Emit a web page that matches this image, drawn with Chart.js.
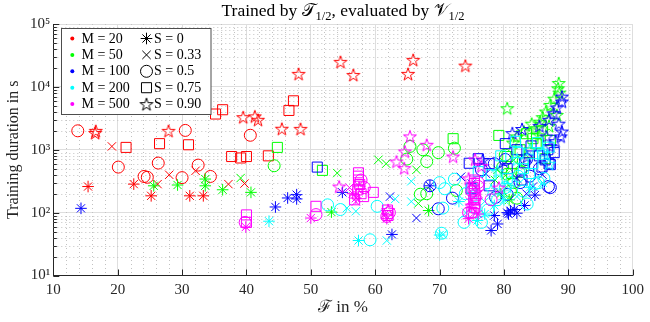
<!DOCTYPE html>
<html>
<head>
<meta charset="utf-8">
<script src="https://cdn.jsdelivr.net/npm/chart.js@4"></script>
<style>
  html, body { margin: 0; padding: 0; background: #fff; }
  #wrap { width: 650px; height: 322px; }
</style>
</head>
<body>
<div id="wrap"><canvas id="c" width="650" height="322"></canvas></div>
<script>
// ---- axis ticks and legend entries ----
const xTickValues = [10, 20, 30, 40, 50, 60, 70, 80, 90, 100];
const yTickValues = [10, 100, 1000, 10000, 100000];
const mLabels = ['M = 20', 'M = 50', 'M = 100', 'M = 200', 'M = 500'];
const sLabels = ['S = 0', 'S = 0.33', 'S = 0.5', 'S = 0.75', 'S = 0.90'];
const mColors = ['#ff0000', '#00ff00', '#0000ff', '#00ffff', '#ff00ff'];

// ---- measurements: [F in %, training duration in s] ----
// M = 20
const m20s0  = [[15.4,260],[22.5,284],[25.2,185],[31.2,185],[33.3,185]];
const m20s33 = [[19.1,1130],[28,400],[32.1,463],[26.2,284],[37.2,284],[39.7,290]];
const m20s50 = [[13.8,2000],[30.5,2030],[40.6,1700],[20.1,530],[26.3,614],[24.1,376],[24.6,365],[30,360],[32.5,570],[34.4,376]];
const m20s75 = [[21.3,1090],[26.5,1250],[31,1200],[35.2,3700],[36.3,4330],[37.7,780],[39.1,740],[40,780],[43.4,800],[46.6,4220],[47.3,6000]];
const m20s90 = [[16.6,2000],[16.5,1850],[27.9,2000],[39.5,3300],[41.3,3400],[41.8,3000],[45.5,2160],[48.4,2150],[48.1,16100],[54.6,25000],[56.6,15500],[65.9,26900],[65.1,16100],[74,21800]];
// M = 50
const m50s0  = [[25.6,267],[29.3,275],[33.6,342],[33.6,267],[36.3,231],[40.7,210],[53.2,102],[68.3,108],[79.5,200],[80.8,160]];
const m50s33 = [[39.1,355],[54.1,426],[60.5,693],[61.7,600],[66.4,480],[66.7,140],[79,480],[80.2,390],[81.5,680],[78.6,330],[82.5,560]];
const m50s50 = [[44.3,557],[65.4,1130],[67.4,1000],[69.8,900],[64.9,710],[68,650],[67,196],[68,200],[72.3,1060],[72.6,225],[79.8,530],[80.5,410],[81.5,300],[82.6,450],[80.2,820],[83,680],[81,220],[82,170]];
const m50s75 = [[44.8,1090],[51.8,470],[72.1,1500],[79.2,1690],[83.9,890],[82.5,1000],[85,1250],[80.5,780],[86,2000],[84.5,1500],[81.2,420],[86.4,720],[83.5,1800],[87.2,1400]];
const m50s90 = [[80.5,4580],[88.5,11500],[88.4,9500],[88.6,8100],[87.2,5170],[86.5,4050],[85.6,2800],[84.9,2200],[83.1,1950],[82,1630],[88.2,3580],[86,3300],[87.8,6500],[84.3,2600],[85.5,1700],[81.4,1300],[87,2400]];
// M = 100
const m100s0  = [[14.3,117],[44.5,123],[46.4,171],[47.8,193],[47.8,165],[54.9,210],[62.6,45],[68.5,267],[81,107],[80.5,100],[81.6,112],[82,98],[80.7,95],[78,52],[79,66],[83.2,130],[84.8,190],[78.5,90]];
const m100s33 = [[62.3,180],[66.4,82],[73.3,370],[77.2,415],[80,600],[82,350],[84.5,260],[86,400],[75,290],[83.5,200]];
const m100s50 = [[68.5,267],[69.8,115],[72,170],[87.2,250],[86.9,260],[80.2,700],[78.7,175],[80.5,195],[82.5,300],[84,380],[76.5,480],[78.5,600],[83.5,700],[85.5,500]];
const m100s75 = [[51,530],[74.6,610],[77.7,600],[80.2,1250],[86.4,690],[87.2,580],[82.8,330],[77.7,267],[74.9,240],[85.9,530],[87,600],[82,1000],[85.5,800],[87.8,900],[80.5,500],[76,720],[84.2,1150],[86.8,1000],[83.2,620]];
const m100s90 = [[89,5850],[89,7000],[87.7,3800],[89,1950],[88.8,1630],[87.2,1130],[82.8,2140],[81.3,1840],[83.6,780],[76.7,690],[88,1370],[86.6,1630],[88.2,4700],[87,3000],[85.5,2400],[88.5,2600]];
// M = 200
const m200s0  = [[43.5,73],[57.4,36],[70,44],[75.9,75],[78.5,130],[80,160],[84,250],[73,150],[77,95]];
const m200s33 = [[65.6,315],[65.6,150],[63.1,165],[61.8,36],[55.6,118],[57,105],[70.5,45],[74.1,100],[77,150],[79.5,210],[82,180],[86,300]];
const m200s50 = [[52.6,133],[54.6,112],[60.3,126],[59.2,37],[70,300],[70.8,240],[72.3,340],[73.8,70],[70.5,118],[70.3,47],[74,200],[75.5,120],[77.5,110],[79,160],[83.6,137],[85.4,300],[84.9,290],[81,300],[76.5,70],[83,220],[80.2,250],[82.2,380],[86.2,350]];
const m200s75 = [[81.8,1360],[80.5,350],[78,400],[76,450],[79.5,800],[83,500],[84.5,600],[86,850],[75,250],[87,1100],[85.2,1300],[82.2,900],[84,420]];
const m200s90 = [[84,1000],[82,700],[86,900],[79,450],[78,230],[75.2,200],[80.5,260],[87,600]];
// M = 500
const m500s0  = [[39.9,59],[50,82],[57,170],[56.5,200],[61.8,80],[75,120],[74.5,80],[76,95]];
const m500s33 = [[57,150],[61.5,95],[74.7,150],[76,200],[56,250]];
const m500s50 = [[39.8,70],[50.8,93],[57.8,330],[58.3,250],[61.8,87],[62.2,100],[75,220],[76,300],[74.5,100],[78,160],[76,260]];
const m500s75 = [[40,92],[40,70],[50.8,126],[57.4,430],[57.4,380],[57.4,330],[57.6,280],[57.3,230],[57.8,200],[58.2,180],[56.8,160],[59.7,210],[75.4,330],[75.4,290],[75.2,250],[75.4,220],[75.6,190],[75.3,160],[75.5,140],[75.4,120],[75,100],[61.9,110],[62,90]];
const m500s90 = [[65.4,1630],[68,1200],[64.6,940],[63.3,650],[64.5,510],[54.4,260],[57.5,250],[62,110],[72.1,780],[75.5,700],[76.5,550],[79.2,250],[74.5,350],[75.6,160],[75,130]];

const series = [
  [m20s0, m20s33, m20s50, m20s75, m20s90],
  [m50s0, m50s33, m50s50, m50s75, m50s90],
  [m100s0, m100s33, m100s50, m100s75, m100s90],
  [m200s0, m200s33, m200s50, m200s75, m200s90],
  [m500s0, m500s33, m500s50, m500s75, m500s90]
];

const SERIF = '"Liberation Serif", "DejaVu Serif", serif';
const INK = '#262626';

// five-pointed star marker as an image point style
function pentagram(color, R) {
  const s = Math.ceil(R * 2 + 4);
  const c = document.createElement('canvas');
  c.width = s; c.height = s;
  const g = c.getContext('2d');
  g.strokeStyle = color; g.lineWidth = 1;
  g.beginPath();
  const cx = s / 2, cy = s / 2 + R * 0.1, r = R * 0.382;
  for (let k = 0; k < 10; k++) {
    const a = -Math.PI / 2 + k * Math.PI / 5;
    const rad = k % 2 ? r : R;
    g.lineTo(cx + rad * Math.cos(a), cy + rad * Math.sin(a));
  }
  g.closePath(); g.stroke();
  return c;
}

const markerRadius = [5.8, 5.9, 6, 7.1, 6.8];
function markerStyle(j, color) {
  return ['star', 'crossRot', 'circle', 'rect', pentagram(color, markerRadius[4])][j];
}

const datasets = [];
series.forEach((row, i) => {
  row.forEach((pts, j) => {
    datasets.push({
      label: mLabels[i] + ', ' + sLabels[j],
      data: pts.map(([x, y]) => ({ x, y })),
      pointStyle: markerStyle(j, mColors[i]),
      pointRadius: markerRadius[j],
      pointHoverRadius: markerRadius[j],
      borderColor: mColors[i],
      backgroundColor: 'rgba(0,0,0,0)',
      pointBorderWidth: 1,
      borderWidth: 1,
      showLine: false
    });
  });
});
// later series sit on top
datasets.reverse();

const SUP = { '1': '\u00b9', '2': '\u00b2', '3': '\u00b3', '4': '\u2074', '5': '\u2075' };

// dotted minor grid
const minorGrid = {
  id: 'minorGrid',
  beforeDatasetsDraw(chart) {
    const { ctx, chartArea: a, scales: { x, y } } = chart;
    ctx.save();
    ctx.strokeStyle = '#c2c2c2';
    ctx.lineWidth = 1;
    ctx.setLineDash([1, 3]);
    ctx.beginPath();
    for (let v = 12; v < 100; v += 2) {
      if (v % 10 === 0) continue;
      const px = Math.round(x.getPixelForValue(v)) + 0.5;
      ctx.moveTo(px, a.top); ctx.lineTo(px, a.bottom);
    }
    for (let e = 1; e < 5; e++) {
      for (let k = 2; k < 10; k++) {
        const py = Math.round(y.getPixelForValue(k * Math.pow(10, e))) + 0.5;
        ctx.moveTo(a.left, py); ctx.lineTo(a.right, py);
      }
    }
    ctx.stroke();
    ctx.restore();
  }
};

// inward tick marks on the left and bottom axes
const innerTicks = {
  id: 'innerTicks',
  afterDatasetsDraw(chart) {
    const { ctx, chartArea: a, scales: { x, y } } = chart;
    ctx.save();
    ctx.strokeStyle = INK; ctx.lineWidth = 1;
    ctx.beginPath();
    xTickValues.forEach(v => {
      const px = Math.round(x.getPixelForValue(v)) + 0.5;
      ctx.moveTo(px, a.bottom); ctx.lineTo(px, a.bottom - 6);
    });
    for (let e = 1; e <= 5; e++) {
      const py = Math.round(y.getPixelForValue(Math.pow(10, e))) + 0.5;
      ctx.moveTo(a.left, py); ctx.lineTo(a.left + 6, py);
      if (e < 5) {
        for (let k = 2; k < 10; k++) {
          const q = Math.round(y.getPixelForValue(k * Math.pow(10, e))) + 0.5;
          ctx.moveTo(a.left, q); ctx.lineTo(a.left + 3.5, q);
        }
      }
    }
    ctx.stroke();
    ctx.restore();
  }
};

function drawMarker(ctx, j, x, y, color) {
  const r = markerRadius[j];
  ctx.save();
  ctx.strokeStyle = color; ctx.lineWidth = 1;
  ctx.beginPath();
  if (j === 0) {
    ctx.moveTo(x - r, y); ctx.lineTo(x + r, y);
    ctx.moveTo(x, y - r); ctx.lineTo(x, y + r);
    const d = r * Math.SQRT1_2;
    ctx.moveTo(x - d, y - d); ctx.lineTo(x + d, y + d);
    ctx.moveTo(x - d, y + d); ctx.lineTo(x + d, y - d);
  } else if (j === 1) {
    const d = r * Math.SQRT1_2;
    ctx.moveTo(x - d, y - d); ctx.lineTo(x + d, y + d);
    ctx.moveTo(x - d, y + d); ctx.lineTo(x + d, y - d);
  } else if (j === 2) {
    ctx.arc(x, y, r, 0, Math.PI * 2);
  } else if (j === 3) {
    const d = r * Math.SQRT1_2;
    ctx.rect(x - d, y - d, 2 * d, 2 * d);
  } else {
    const img = pentagram(color, r);
    ctx.drawImage(img, x - img.width / 2, y - img.height / 2);
  }
  ctx.stroke();
  ctx.restore();
}

// legend box and plot title
const decorations = {
  id: 'decorations',
  afterDraw(chart) {
    const ctx = chart.ctx;
    ctx.save();
    // legend
    const bx = 61.5, by = 28.5, bw = 149.5, bh = 86;
    ctx.fillStyle = '#fff';
    ctx.fillRect(bx, by, bw, bh);
    ctx.strokeStyle = '#4d4d4d'; ctx.lineWidth = 1;
    ctx.strokeRect(bx, by, bw, bh);
    ctx.font = '14px ' + SERIF;
    ctx.textBaseline = 'middle';
    ctx.textAlign = 'left';
    for (let i = 0; i < 5; i++) {
      const ry = 38.5 + i * 16.4;
      ctx.fillStyle = mColors[i];
      ctx.beginPath(); ctx.arc(72.3, ry, 2, 0, Math.PI * 2); ctx.fill();
      ctx.fillStyle = '#000';
      ctx.fillText(mLabels[i], 81.5, ry + 0.5);
      drawMarker(ctx, i, 146.5, ry, '#000');
      ctx.fillStyle = '#000';
      ctx.fillText(sLabels[i], 154, ry + 0.5);
    }
    // title
    const big = '17.5px ' + SERIF, small = '12.5px ' + SERIF;
    const parts = [
      { t: 'Trained by ', f: big, dy: 0 },
      { t: '\u{1D4AF}', f: big, dy: 0 },
      { t: '1/2', f: small, dy: 4 },
      { t: ', evaluated by ', f: big, dy: 0 },
      { t: '\u{1D4B1}', f: big, dy: 0 },
      { t: '1/2', f: small, dy: 4 }
    ];
    let w = 0;
    parts.forEach(p => { ctx.font = p.f; p.w = ctx.measureText(p.t).width; w += p.w; });
    const a = chart.chartArea;
    let x = (a.left + a.right) / 2 - w / 2;
    ctx.fillStyle = '#000';
    ctx.textBaseline = 'alphabetic';
    parts.forEach(p => { ctx.font = p.f; ctx.fillText(p.t, x, 15.5 + p.dy); x += p.w; });
    ctx.restore();
  }
};

new Chart(document.getElementById('c'), {
  type: 'scatter',
  data: { datasets },
  options: {
    responsive: false,
    animation: false,
    devicePixelRatio: 1,
    layout: { padding: { top: 24, right: 11.7, left: 0, bottom: 0 } },
    plugins: { legend: { display: false }, tooltip: { enabled: false }, title: { display: false } },
    scales: {
      x: {
        type: 'linear', min: 10, max: 100, position: 'bottom',
        afterBuildTicks: s => { s.ticks = xTickValues.map(v => ({ value: v })); },
        afterFit: s => { s.height = 46.5; },
        grid: { color: '#dedede', lineWidth: 1, drawTicks: false },
        border: { display: true, color: INK, width: 1 },
        ticks: { padding: 6, color: INK, font: { family: SERIF, size: 15 }, maxRotation: 0, autoSkip: false },
        title: { display: true, text: '\u2131 in %', color: INK, font: { family: SERIF, size: 17 }, padding: { top: 0, bottom: 4 } }
      },
      y: {
        type: 'logarithmic', min: 10, max: 100000, position: 'left',
        afterBuildTicks: s => { s.ticks = yTickValues.map(v => ({ value: v })); },
        afterFit: s => { s.width = 53.3; },
        grid: { color: '#dedede', lineWidth: 1, drawTicks: false },
        border: { display: true, color: INK, width: 1 },
        ticks: {
          padding: 3, color: INK, font: { family: SERIF, size: 15 }, autoSkip: false,
          callback: v => '10' + SUP[String(Math.round(Math.log10(v)))]
        },
        title: { display: true, text: 'Training duration in s', color: INK, font: { family: SERIF, size: 16 }, padding: { top: 4, bottom: 0 } }
      }
    }
  },
  plugins: [minorGrid, innerTicks, decorations]
});
</script>
</body>
</html>
